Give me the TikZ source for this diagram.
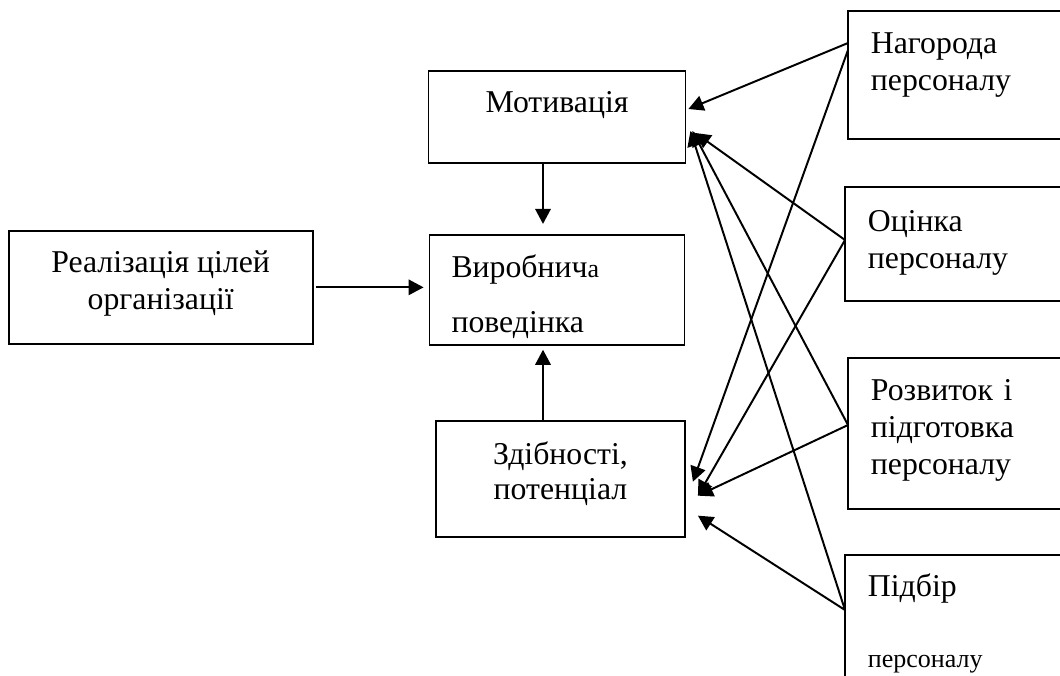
\documentclass[tikz,border=0pt]{standalone}
\usepackage{fontspec}
\setmainfont{Liberation Serif}
\usetikzlibrary{positioning,arrows.meta}
\newcommand\smallfs{\fontsize{18.5pt}{21pt}\selectfont}

\begin{document}
\begin{tikzpicture}[
  every node/.style={font=\fontsize{22.6pt}{26.3pt}\selectfont},
  frame/.style={line width=1.3pt},
  cbox/.style={rectangle, draw, frame, align=center, inner sep=0pt},
  lbox/.style={rectangle, draw, frame, align=left, inner ysep=0pt, inner xsep=0.55cm},
  rbox/.style={rectangle, frame, align=left, inner ysep=0pt, inner xsep=0.55cm,
               text width=5.2cm, anchor=north west},
  arr/.style={-{Triangle[length=10.7pt,width=11pt]}, line width=1.4pt}
]
\useasboundingbox (0,0) rectangle (26.5,-16.875);

\node[cbox, minimum width=6.425cm, minimum height=2.3cm] (mot) at (13.925,-2.925) {Мотивація\\[-0.175cm]\mbox{}};
\node[lbox, text width=5.275cm, minimum height=2.75cm, below=1.75cm of mot] (vyr) {\strut\\[-0.675cm]Виробнич{\smallfs а}\\[0.45cm]поведінка};
\node[cbox, minimum width=6.225cm, minimum height=2.9cm, below=1.85cm of vyr, xshift=0.0875cm] (zdib) {Здібності,\\[-0.05cm]потенціал\\[-0.5cm]\mbox{}};
\node[cbox, minimum width=7.6cm, minimum height=2.825cm, left=2.875cm of vyr, yshift=0.0625cm] (real) {Реалізація цілей\\організації\\[-0.575cm]\mbox{}};

% right column, cut off by the page edge
\node[rbox, minimum height=3.15cm]  (nag)  at (21.2,-0.275)   {Нагорода\\персоналу\\[-0.275cm]\mbox{}};
\node[rbox, minimum height=2.8cm]   (ocin) at (21.125,-4.675) {Оцінка\\персоналу\\[-0.7cm]\mbox{}};
\node[rbox, minimum height=3.725cm] (rozv) at (21.2,-8.95)    {Розвиток і\\підготовка\\персоналу\\[-0.625cm]\mbox{}};
\node[rbox, minimum height=3.375cm] (pidb) at (21.125,-13.875) {Підбір\\[0.85cm]{\smallfs персоналу}};
\foreach \b in {nag,ocin,rozv,pidb}
  \draw[frame] (\b.north east) -- (\b.north west) -- (\b.south west) -- (\b.south east);

\draw[arr, shorten >=0.25cm] ([xshift=-0.35cm]mot.south) -- ([xshift=-0.35cm]mot.south |- vyr.north);
\draw[arr, shorten >=0.1cm] ([xshift=-0.4375cm]zdib.north) -- ([xshift=-0.4375cm]zdib.north |- vyr.south);
\draw[arr, shorten <=0.05cm, shorten >=0.125cm] (real.east) -- (real.east -| vyr.west);

\draw[arr] ([yshift=-0.8cm]nag.north west)   -- ([xshift=0.05cm,yshift=0.2cm]mot.east);
\draw[arr] ([yshift=-0.975cm]nag.north west) -- ([xshift=0.175cm,yshift=-0.075cm]zdib.east);
\draw[arr] ([yshift=-1.325cm]ocin.north west) -- ([xshift=0.225cm,yshift=-0.4cm]mot.east);
\draw[arr] ([yshift=-1.325cm]ocin.north west) -- ([xshift=0.3cm,yshift=-0.425cm]zdib.east);
\draw[arr] ([yshift=-1.675cm]rozv.north west) -- ([xshift=0.15cm,yshift=-0.35cm]mot.east);
\draw[arr] ([yshift=-1.675cm]rozv.north west) -- ([xshift=0.3cm,yshift=-0.425cm]zdib.east);
\draw[arr] ([yshift=-1.375cm]pidb.north west) -- ([xshift=0.1cm,yshift=-0.35cm]mot.east);
\draw[arr] ([yshift=-1.375cm]pidb.north west) -- ([xshift=0.3cm,yshift=-0.925cm]zdib.east);

\end{tikzpicture}
\end{document}
